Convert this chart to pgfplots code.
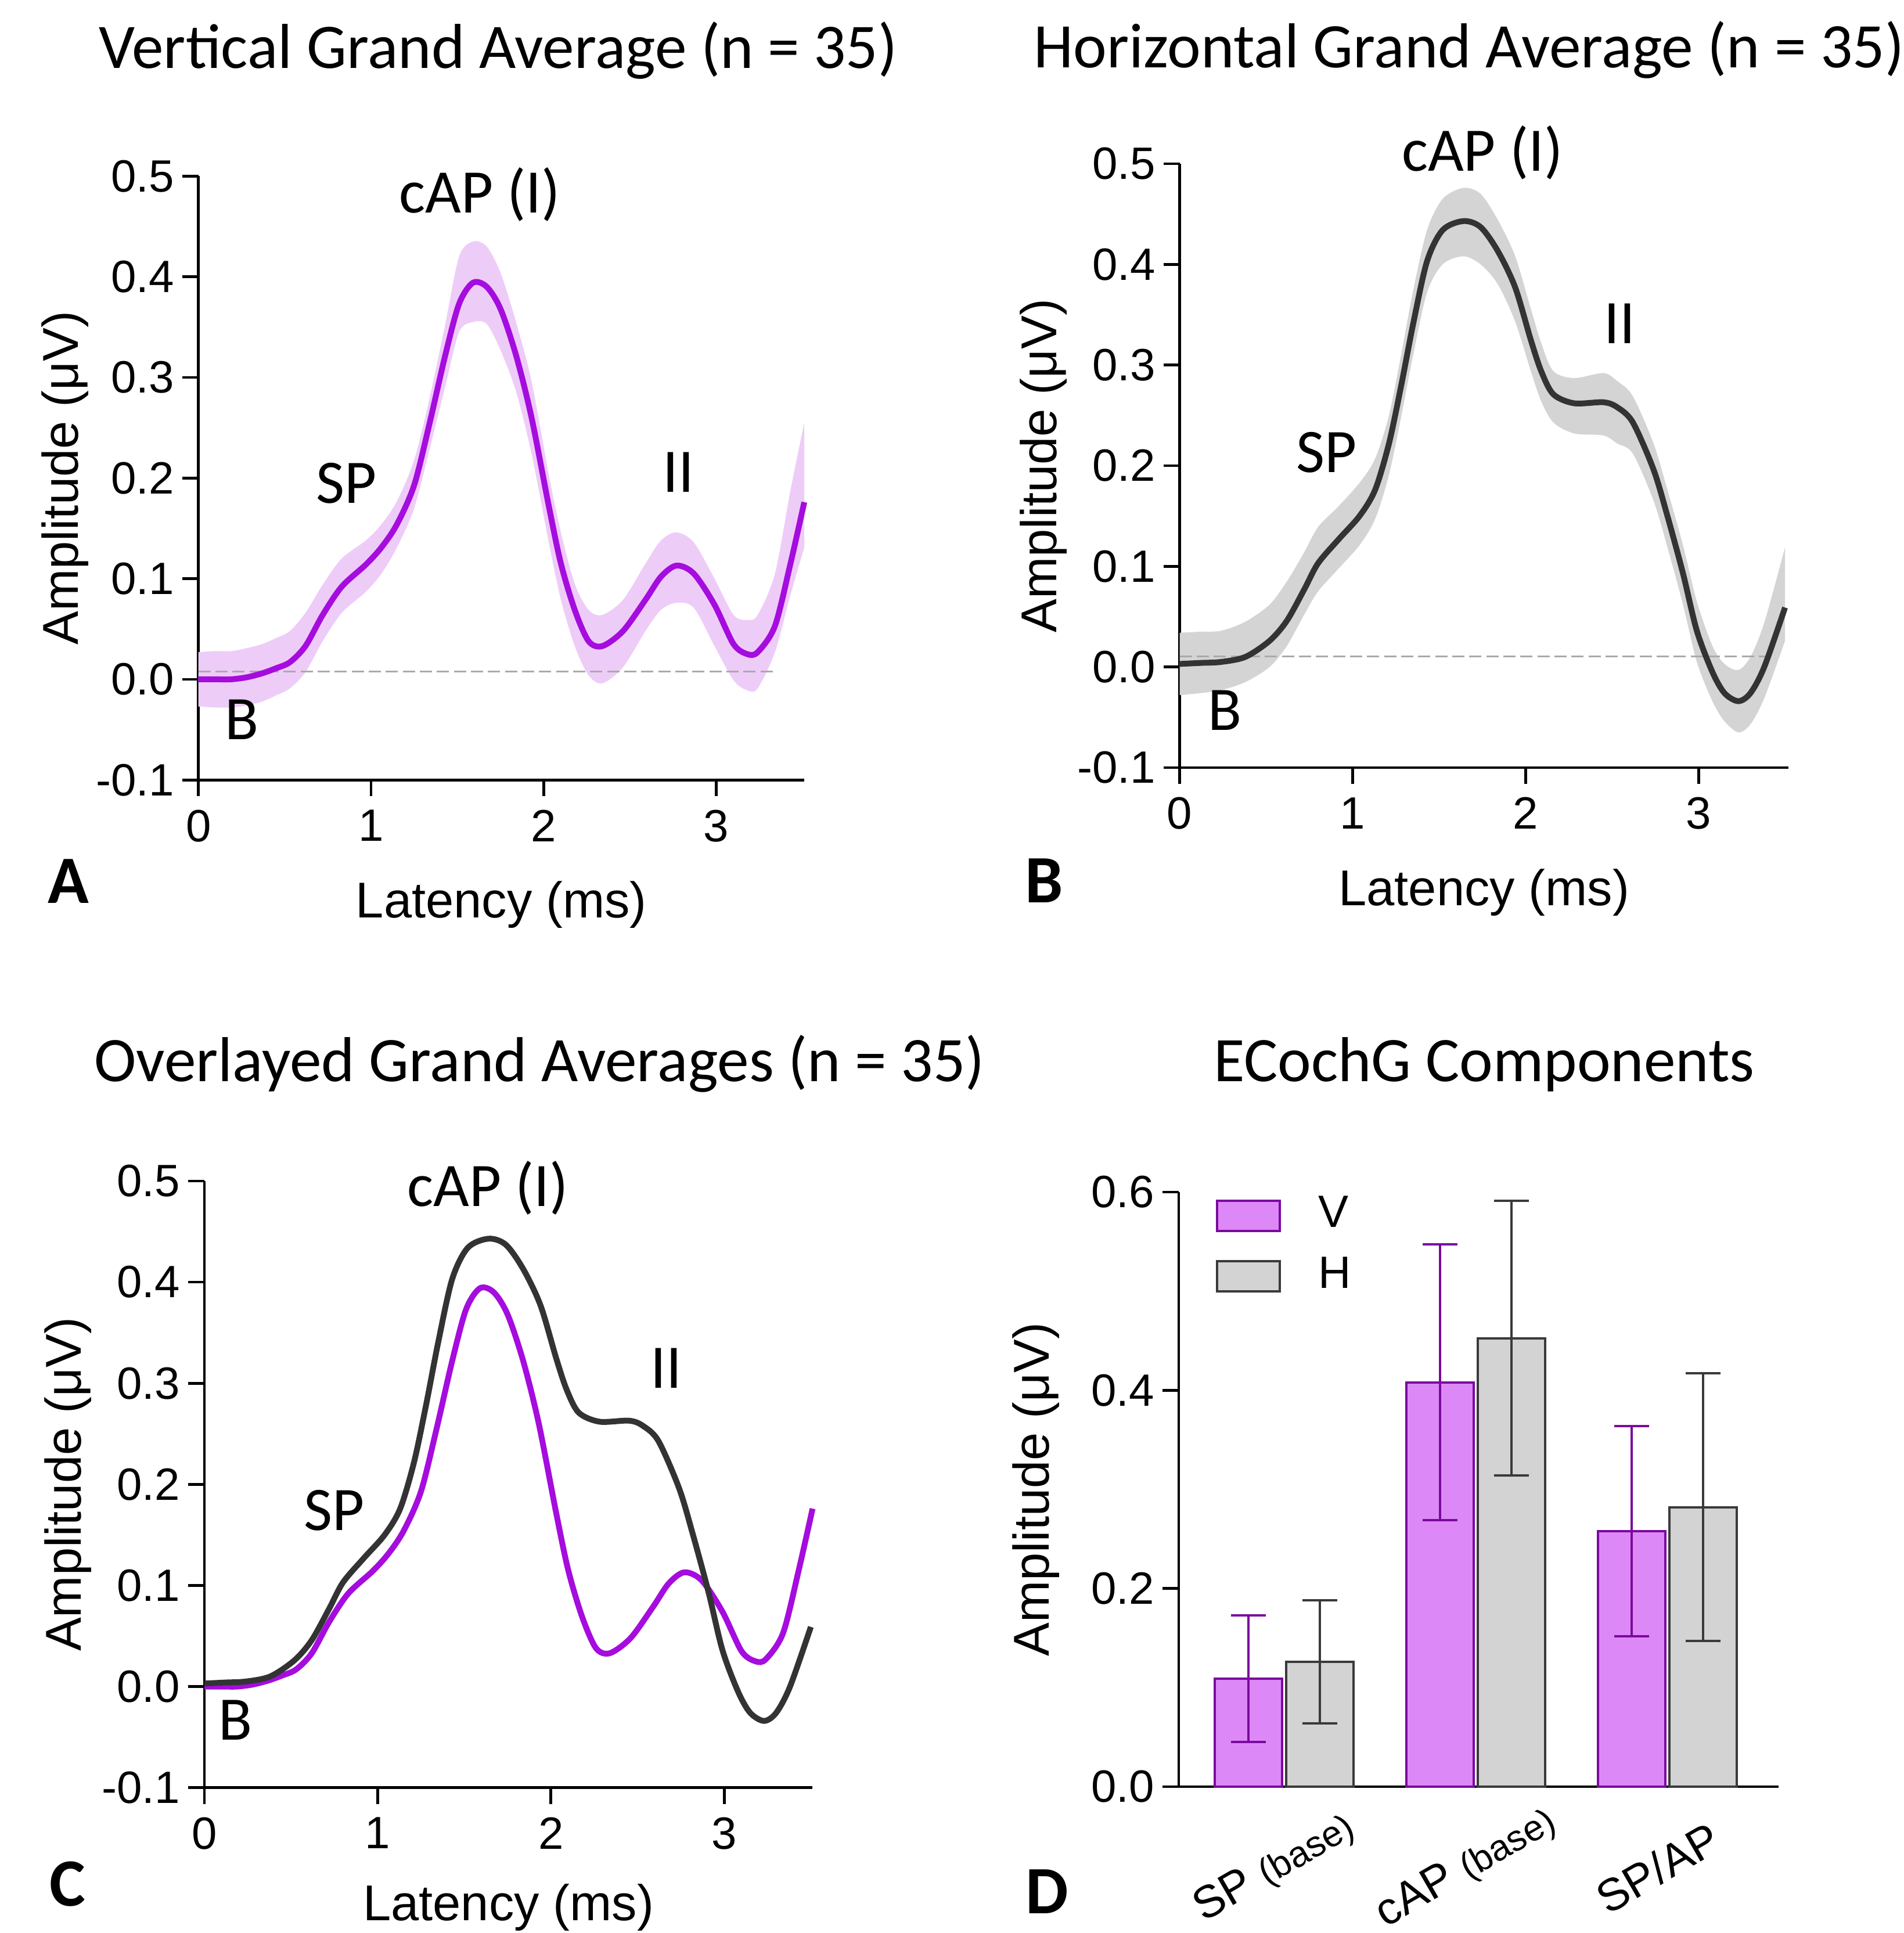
\documentclass[border=0pt]{standalone}
\usepackage{fontspec}
\setmainfont{Liberation Sans}
\newfontfamily\calibri{Carlito}
\usepackage{pgfplots}
\pgfplotsset{compat=1.18}
\usepgfplotslibrary{fillbetween}
\usepackage{pgfplotstable}

\definecolor{vline}{RGB}{165,12,222}
\definecolor{vband}{RGB}{238,204,248}
\definecolor{hline}{RGB}{51,51,51}
\definecolor{hband}{RGB}{212,212,212}
\definecolor{vfill}{RGB}{221,136,247}
\definecolor{vedge}{RGB}{122,10,158}
\definecolor{hfill}{RGB}{211,211,211}
\definecolor{hedge}{RGB}{58,58,58}
\definecolor{dashc}{RGB}{170,170,170}

\newcommand{\tickfont}{\fontsize{11.7}{13}\selectfont}
\newcommand{\labfont}{\fontsize{13}{15}\selectfont}
\newcommand{\titfont}{\calibri\fontsize{16.4}{18}\selectfont}
\newcommand{\annfont}{\calibri\fontsize{16}{18}\selectfont}
\newcommand{\letfont}{\calibri\bfseries\fontsize{17.5}{19}\selectfont}

\pgfplotstableread{
x y up lo
0.00 0.000 0.027 -0.027
0.10 0.000 0.028 -0.028
0.19 0.000 0.028 -0.028
0.28 0.002 0.031 -0.026
0.37 0.006 0.035 -0.022
0.45 0.011 0.041 -0.016
0.53 0.017 0.048 -0.009
0.62 0.033 0.066 0.007
0.72 0.064 0.094 0.038
0.83 0.092 0.120 0.066
0.97 0.114 0.138 0.087
1.06 0.131 0.154 0.105
1.15 0.154 0.177 0.131
1.25 0.193 0.218 0.170
1.34 0.255 0.280 0.229
1.43 0.322 0.353 0.291
1.51 0.373 0.420 0.345
1.59 0.394 0.435 0.355
1.67 0.390 0.430 0.353
1.75 0.368 0.404 0.327
1.84 0.322 0.355 0.286
1.93 0.260 0.296 0.224
2.03 0.172 0.203 0.136
2.10 0.115 0.146 0.079
2.18 0.069 0.095 0.033
2.26 0.038 0.069 0.004
2.34 0.033 0.064 -0.004
2.46 0.048 0.079 0.012
2.59 0.079 0.115 0.048
2.68 0.102 0.138 0.069
2.77 0.113 0.146 0.076
2.87 0.105 0.136 0.071
2.99 0.074 0.100 0.033
3.10 0.035 0.064 -0.001
3.18 0.025 0.059 -0.011
3.24 0.027 0.064 -0.009
3.34 0.053 0.105 0.027
3.43 0.115 0.188 0.084
3.51 0.176 0.255 0.131
}\Vtab

\pgfplotstableread{
x y up lo
0.00 0.003 0.034 -0.028
0.12 0.004 0.035 -0.026
0.24 0.005 0.036 -0.023
0.38 0.010 0.045 -0.015
0.52 0.026 0.062 0.000
0.62 0.046 0.085 0.021
0.72 0.077 0.114 0.052
0.80 0.103 0.139 0.075
0.92 0.127 0.160 0.098
1.04 0.150 0.183 0.121
1.13 0.176 0.207 0.147
1.21 0.222 0.250 0.191
1.28 0.279 0.310 0.248
1.35 0.341 0.374 0.310
1.43 0.403 0.434 0.372
1.52 0.434 0.465 0.400
1.64 0.443 0.476 0.408
1.74 0.437 0.470 0.400
1.84 0.413 0.444 0.380
1.94 0.377 0.408 0.343
2.03 0.325 0.356 0.294
2.09 0.294 0.322 0.264
2.16 0.271 0.294 0.243
2.28 0.262 0.287 0.232
2.45 0.263 0.292 0.230
2.53 0.258 0.284 0.222
2.62 0.243 0.269 0.212
2.74 0.196 0.222 0.165
2.82 0.150 0.176 0.119
2.91 0.093 0.121 0.062
2.99 0.036 0.065 0.005
3.08 -0.005 0.021 -0.034
3.15 -0.026 0.003 -0.054
3.23 -0.034 -0.003 -0.065
3.30 -0.026 0.010 -0.057
3.38 0.000 0.044 -0.031
3.50 0.059 0.119 0.026
}\Htab

\pgfplotsset{
  base/.style={
    scale only axis,
    axis lines=left,
    axis line style={-, line width=0.7pt},
    every tick/.style={black, line width=0.7pt},
    tick align=outside,
    major tick length=4.2pt,
    tick label style={font=\tickfont},
    /pgf/number format/assume math mode=true,
    yticklabel style={inner xsep=1.9pt, /pgf/number format/.cd, fixed, fixed zerofill, precision=1},
    label style={font=\labfont},
    ylabel={Amplitude (μV)},
    every axis title/.style={at={(0.5,1)}, anchor=base, font=\titfont},
    clip=false,
  },
  erp/.style={
    base,
    xmin=0, xmax=3.51, ymin=-0.1, ymax=0.5,
    xtick={0,1,2,3}, ytick={-0.1,0,0.1,0.2,0.3,0.4,0.5},
    xlabel={Latency (ms)},
  },
  boxlegend/.style={legend image code/.code={\draw[##1, line width=0.6pt] (0pt,-4.2pt) rectangle (16.2pt,3.6pt);}},
}

\begin{document}
\begin{tikzpicture}

% ---------------- A
\begin{axis}[erp, at={(51.26pt,297.86pt)}, anchor=south west,
  width=156.5pt, height=156pt,
  title={Vertical Grand Average (n = 35)},
  title style={at={(axis description cs:0.4949,1.179)}},
  xlabel style={at={(axis description cs:0.5,-0.228)}, anchor=base},
  ylabel style={at={(axis description cs:-0.1984,0.5)}, anchor=base},
]
\addplot[name path=vu, draw=none, smooth] table[x=x,y=up] {\Vtab};
\addplot[name path=vl, draw=none, smooth] table[x=x,y=lo] {\Vtab};
\addplot[vband, draw=none] fill between[of=vu and vl];
\addplot[dashc, line width=0.45pt, dash pattern=on 3.15pt off 1.25pt] coordinates {(0,0.0075) (3.33,0.0075)};
\addplot[vline, line width=1.5pt, smooth] table[x=x,y=y] {\Vtab};
\node[font=\annfont] at (axis cs:1.63,0.482) {cAP (I)};
\node[font=\annfont] at (axis cs:0.857,0.195) {SP};
\node[font=\annfont] at (axis cs:2.78,0.206) {II};
\node[font=\annfont] at (axis cs:0.25,-0.040) {B};
\node[font=\letfont] at (axis description cs:-0.2144,-0.168) {A};
\end{axis}

% ---------------- B
\begin{axis}[erp, xmax=3.52, at={(304.74pt,301.05pt)}, anchor=south west,
  width=157.26pt, height=156pt,
  title={Horizontal Grand Average (n = 35)},
  title style={at={(axis description cs:0.4754,1.1587)}},
  xlabel style={at={(axis description cs:0.5,-0.228)}, anchor=base},
  ylabel style={at={(axis description cs:-0.2022,0.5)}, anchor=base},
]
\addplot[name path=hu, draw=none, smooth] table[x=x,y=up] {\Htab};
\addplot[name path=hl, draw=none, smooth] table[x=x,y=lo] {\Htab};
\addplot[hband, draw=none] fill between[of=hu and hl];
\addplot[dashc, line width=0.45pt, dash pattern=on 3.15pt off 1.25pt] coordinates {(0,0.0103) (3.42,0.0103)};
\addplot[hline, line width=1.5pt, smooth] table[x=x,y=y] {\Htab};
\node[font=\annfont] at (axis cs:1.75,0.511) {cAP (I)};
\node[font=\annfont] at (axis cs:0.848,0.213) {SP};
\node[font=\annfont] at (axis cs:2.545,0.341) {II};
\node[font=\annfont] at (axis cs:0.26,-0.043) {B};
\node[font=\letfont] at (axis description cs:-0.2228,-0.1875) {B};
\end{axis}

% ---------------- C
\begin{axis}[erp, at={(52.8pt,37.55pt)}, anchor=south west,
  width=157.1pt, height=156.7pt,
  title={Overlayed Grand Averages (n = 35)},
  title style={at={(axis description cs:0.551,1.164)}},
  xlabel style={at={(axis description cs:0.5,-0.219)}, anchor=base},
  ylabel style={at={(axis description cs:-0.2033,0.5)}, anchor=base},
]
\addplot[vline, line width=1.5pt, smooth] table[x=x,y=y] {\Vtab};
\addplot[hline, line width=1.5pt, smooth] table[x=x,y=y] {\Htab};
\node[font=\annfont] at (axis cs:1.636,0.493) {cAP (I)};
\node[font=\annfont] at (axis cs:0.75,0.174) {SP};
\node[font=\annfont] at (axis cs:2.665,0.315) {II};
\node[font=\annfont] at (axis cs:0.18,-0.033) {B};
\node[font=\letfont] at (axis description cs:-0.2253,-0.159) {C};
\end{axis}

% ---------------- D
\begin{axis}[base, at={(304.5pt,37.8pt)}, anchor=south west,
  width=154.95pt, height=153.6pt,
  xmin=-0.55, xmax=2.58, ymin=0, ymax=0.6,
  ytick={0,0.2,0.4,0.6},
  xtick={0,1,2},
  xticklabels={{SP {\fontsize{9.4}{10}\selectfont(base)}},{cAP {\fontsize{9.4}{10}\selectfont(base)}},{SP/AP}},
  xtick style={draw=none},
  xticklabel style={font=\tickfont, inner sep=0.5pt, anchor=center, yshift=-16.8pt, xshift=-2.5pt, rotate=30},
  title={ECochG Components},
  title style={at={(axis description cs:0.509,1.186)}},
  ylabel style={at={(axis description cs:-0.2168,0.5)}, anchor=base},
  legend style={at={(axis description cs:0.062,0.9932)}, anchor=north west, draw=none, fill=none,
    inner sep=0pt, outer sep=0pt, nodes={inner sep=0pt}, row sep=6.15pt, column sep=9.6pt, font=\tickfont},
  legend cell align=left,
]
\addplot[ybar, bar width=0.35, bar shift=-0.186, fill=vfill, draw=vedge, line width=0.6pt, boxlegend]
  coordinates {(0,0.109) (1,0.408) (2,0.258)};
\addlegendentry{V}
\addplot[forget plot, draw=none, no markers,
  error bars/.cd, y dir=both, y explicit,
  error bar style={draw=vedge, line width=0.6pt},
  error mark options={rotate=90, draw=vedge, line width=0.6pt, mark size=4.5pt}]
  coordinates {(-0.186,0.109) +- (0,0.064) (0.814,0.408) +- (0,0.139) (1.814,0.258) +- (0,0.106)};
\addplot[ybar, bar width=0.35, bar shift=0.186, fill=hfill, draw=hedge, line width=0.6pt, boxlegend]
  coordinates {(0,0.126) (1,0.4525) (2,0.282)};
\addlegendentry{H}
\addplot[forget plot, draw=none, no markers,
  error bars/.cd, y dir=both, y explicit,
  error bar style={draw=hedge, line width=0.6pt},
  error mark options={rotate=90, draw=hedge, line width=0.6pt, mark size=4.5pt}]
  coordinates {(0.186,0.126) +- (0,0.062) (1.186,0.4525) +- (0,0.1385) (2.186,0.282) +- (0,0.135)};
\node[font=\letfont] at (axis description cs:-0.2197,-0.1768) {D};
\end{axis}

\pgfresetboundingbox
\path (0,0) rectangle (491.7pt,499.35pt);
\end{tikzpicture}
\end{document}
